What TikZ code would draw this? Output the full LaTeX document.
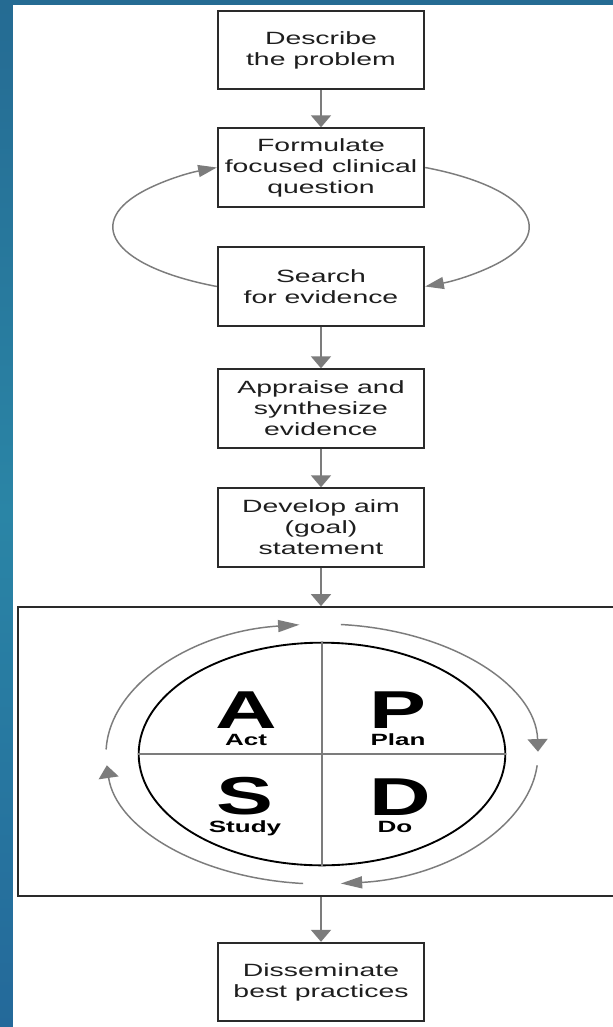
\documentclass[tikz,border=0pt]{standalone}
\usepackage{fontspec}
\usepackage{tikz}
\usetikzlibrary{arrows.meta, shapes.geometric}
\newfontfamily\boxfont[FakeStretch=1.6]{Liberation Sans}
\definecolor{slide_blue_top}{HTML}{256B93}
\definecolor{slide_blue_mid}{HTML}{2A85A6}
\definecolor{slide_blue_bot}{HTML}{24699A}
\definecolor{linegray}{HTML}{7C7C7C}
\definecolor{boxline}{HTML}{2A2A2A}
\definecolor{textgray}{HTML}{1E1E1E}

\begin{document}
\begin{tikzpicture}[
    x=0.75pt, y=0.75pt,
    stepbox/.style={draw=boxline, line width=1.3pt, fill=white, minimum width=155pt,
        minimum height=59pt, inner sep=2pt, align=center, text=textgray,
        font=\boxfont\fontsize{13.3}{15.7}\selectfont},
    flowarrow/.style={draw=linegray, line width=1.4pt, -{Triangle[width=15pt,length=9pt]}},
    backloop/.style={draw=linegray, line width=1.1pt, -{Triangle[width=9pt,length=14pt]}},
    cyclearrow/.style={draw=linegray, line width=1.1pt},
    vtip/.style={-{Triangle[width=15pt,length=9.5pt]}},
    htip/.style={-{Triangle[width=9pt,length=16pt]}},
    crossline/.style={draw=linegray, line width=0.9pt},
    bigletter/.style={font=\boxfont\bfseries\fontsize{40}{40}\selectfont, inner sep=0pt, text depth=0pt},
    smalllabel/.style={font=\boxfont\bfseries\fontsize{12.2}{12.2}\selectfont, inner sep=0pt}
]
    \useasboundingbox (0,0) rectangle (613,-1027);
    \clip (0,0) rectangle (613,-1027);

    % slide background
    \fill[top color=slide_blue_top, bottom color=slide_blue_bot, middle color=slide_blue_mid]
        (0,0) rectangle (613,-1027);
    \fill[white] (13,-5) rectangle (613,-1027);

	\node[stepbox] (describe) at (321,-50) {Describe\\the problem};
	\node[stepbox] (formulate) at (321,-167.5) {Formulate\\focused clinical\\question};
	\node[stepbox] (search) at (321,-286.5) {Search\\for evidence};
	\node[stepbox] (appraise) at (321,-408.5) {Appraise and\\synthesize\\evidence};
	\node[stepbox] (develop) at (321,-527.5) {Develop aim\\(goal)\\statement};
	\node[draw=boxline, line width=1.3pt, minimum width=450pt, minimum height=216.75pt] (pdsa) at (318,-751.5) {};
	\node[stepbox] (disseminate) at (321,-982) {Disseminate\\best practices};

    \draw[flowarrow] (describe) -- (formulate);
    \draw[flowarrow] (search) -- (appraise);
    \draw[flowarrow] (appraise) -- (develop);
    \draw[flowarrow] (develop.south) -- (develop.south |- pdsa.north);
    \draw[flowarrow] (disseminate.north |- pdsa.south) -- (disseminate.north);

    % search loop
    \draw[backloop] (search.west) arc[start angle=240, end angle=120, x radius=208, y radius=68.7];
    \draw[backloop] (formulate.east) arc[start angle=60, end angle=-60, x radius=208, y radius=68.7];

    % PDSA cycle
    \node[draw=black, line width=1.4pt, ellipse, inner sep=0pt, minimum width=275pt, minimum height=167pt] (pdsacircle) at (322,-754) {};
    \draw[crossline] (pdsacircle.north) -- (pdsacircle.south);
    \draw[crossline] (pdsacircle.west) -- (pdsacircle.east);

    \draw[cyclearrow, vtip] ([shift={(pdsacircle.center)}] 85:216 and 130) arc[start angle=85, end angle=1, x radius=216, y radius=130];
    \draw[cyclearrow, htip] ([shift={(pdsacircle.center)}] -5:216 and 130) arc[start angle=-5, end angle=-85, x radius=216, y radius=130];
    \draw[cyclearrow, vtip] ([shift={(pdsacircle.center)}] -95:216 and 130) arc[start angle=-95, end angle=-175, x radius=216, y radius=130];
    \draw[cyclearrow, htip] ([shift={(pdsacircle.center)}] 178:216 and 130) arc[start angle=178, end angle=96, x radius=216, y radius=130];

    \node[bigletter, anchor=base] (letterA) at (246,-728) {A};
    \node[smalllabel, anchor=base] (labelA) at (246,-745) {Act};
    \node[bigletter, anchor=base] (letterP) at (398,-728) {P};
    \node[smalllabel, anchor=base] (labelP) at (398,-745) {Plan};
    \node[bigletter, anchor=base] (letterS) at (245,-814) {S};
    \node[smalllabel, anchor=base] (labelS) at (245,-832) {Study};
    \node[bigletter, anchor=base] (letterD) at (400,-815) {D};
    \node[smalllabel, anchor=base] (labelD) at (395,-832) {Do};
\end{tikzpicture}
\end{document}
